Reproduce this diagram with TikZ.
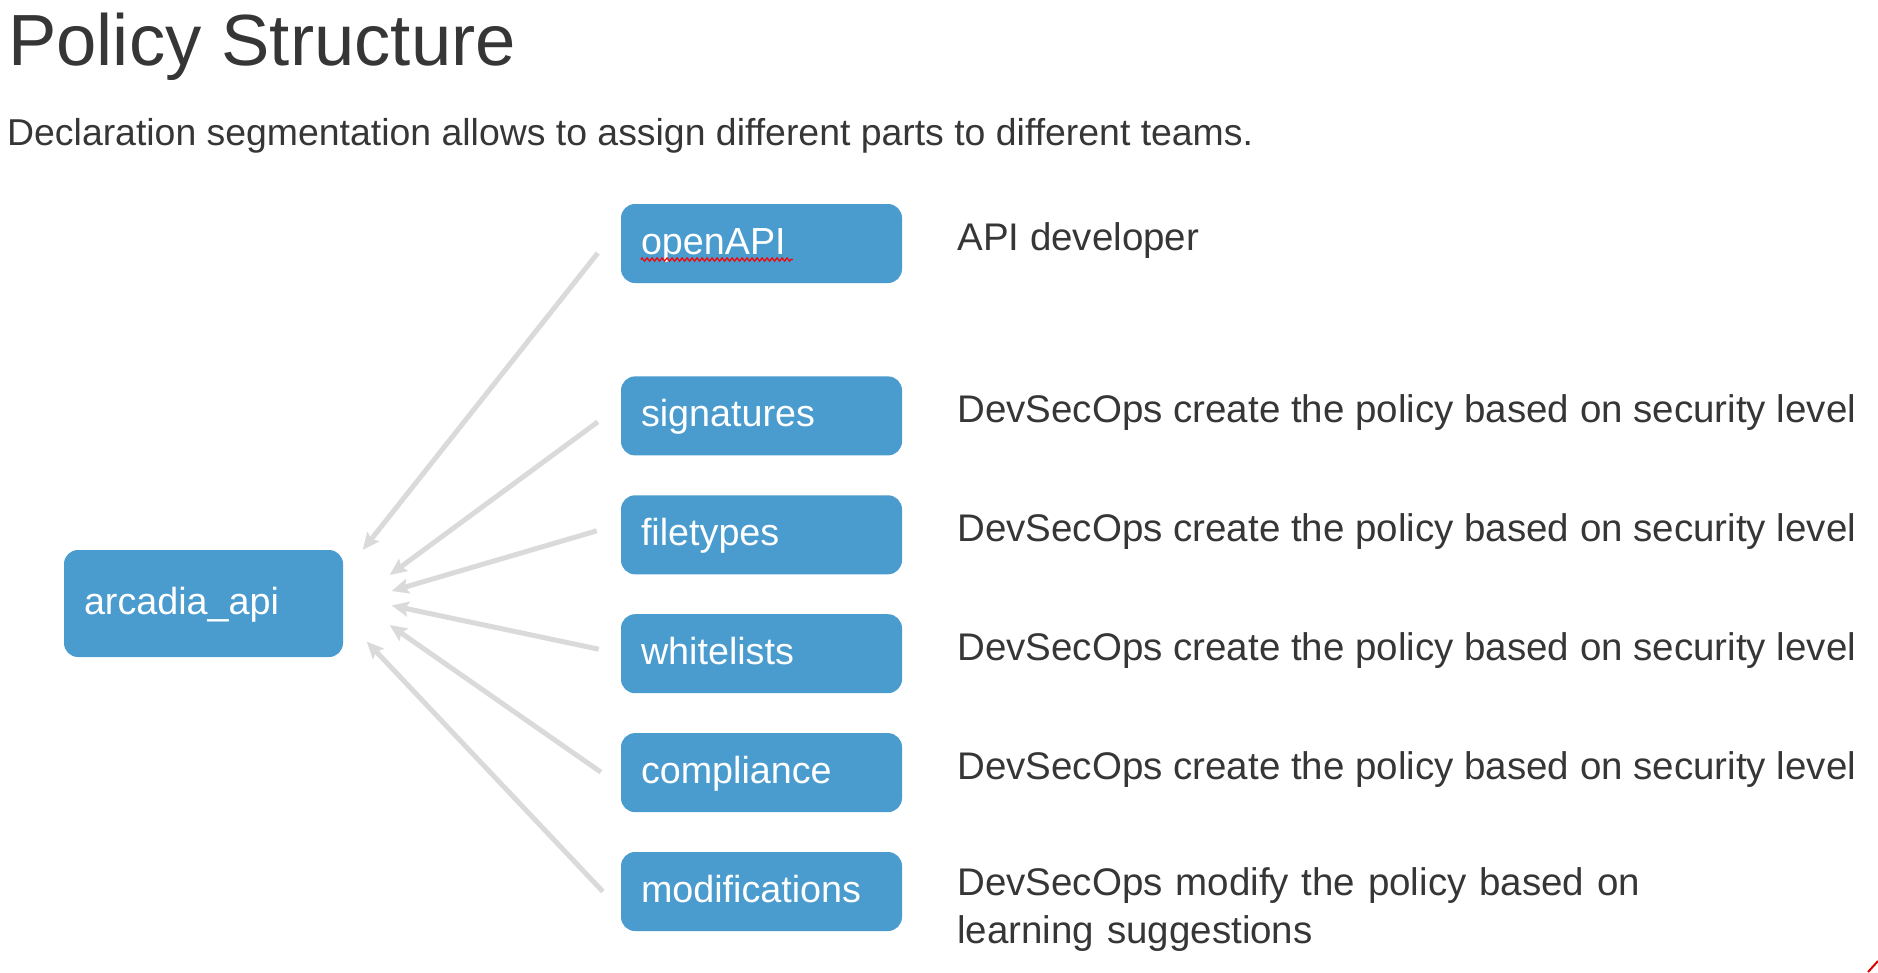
\documentclass[tikz,border=0pt]{standalone}
\usepackage{fontspec}
\setmainfont{Liberation Sans}
\usetikzlibrary{arrows.meta, positioning, calc, decorations.pathmorphing}

\definecolor{boxblue}{HTML}{4A9BCE}
\definecolor{inkgrey}{HTML}{363636}
\definecolor{arrowgrey}{HTML}{DADADA}

\begin{document}
\begin{tikzpicture}[x=1pt, y=-1pt,
  teambox/.style={rectangle, rounded corners=14pt, fill=boxblue, text=white,
    text width=241pt, inner xsep=20pt, align=left, minimum height=79pt,
    text height=22pt, text depth=0pt, font=\fontsize{37.7pt}{45pt}\selectfont},
  desc/.style={inner sep=0pt, text=inkgrey, font=\fontsize{38.5pt}{48pt}\selectfont},
  feed/.style={draw=arrowgrey, line width=5pt, -{Stealth[length=17pt, width=15pt, inset=3pt]}}]

    \useasboundingbox (0,0) rectangle (1878,972);

    %title and subtitle
    \node (title) [anchor=base west, inner sep=0pt, text=inkgrey,
    font=\fontsize{72.5pt}{80pt}\selectfont] at (8,65) {Policy Structure};
    \node (subtitle) [anchor=base west, inner sep=0pt, text=inkgrey,
    font=\fontsize{37.4pt}{45pt}\selectfont] at (7,145)
    {Declaration segmentation allows to assign different parts to different teams.};

    %declaration on the left
    \node (arcadia) [teambox, text width=239pt, minimum height=107pt] at (203.5,603.5) {arcadia\_api};

    %the parts of the policy
    \node (openAPI) [teambox] at (761.5,243.5) {openAPI};
    \node (signatures) [teambox, below=93pt of openAPI] {signatures};
    \node (filetypes) [teambox, below=39.5pt of signatures] {filetypes};
    \node (whitelists) [teambox, below=39.5pt of filetypes] {whitelists};
    \node (compliance) [teambox, below=39.5pt of whitelists] {compliance};
    \node (modifications) [teambox, below=39.5pt of compliance] {modifications};

    %spell check mark under openAPI
    \draw [red, line width=1.2pt, decorate, decoration={zigzag, segment length=5pt, amplitude=1.6pt}]
    ($(openAPI.west)+(20,16)$) -- ($(openAPI.west)+(172,16)$);

    %who owns each part
    \node (apiText) [desc, right=55pt of openAPI.east, anchor=base west, yshift=-7pt] {API developer};
    \node (sigText) [desc, right=55pt of signatures.east, anchor=base west, yshift=-7pt]
    {DevSecOps create the policy based on security level};
    \node (fileText) [desc, right=55pt of filetypes.east, anchor=base west, yshift=-7pt]
    {DevSecOps create the policy based on security level};
    \node (whiteText) [desc, right=55pt of whitelists.east, anchor=base west, yshift=-7pt]
    {DevSecOps create the policy based on security level};
    \node (compText) [desc, right=55pt of compliance.east, anchor=base west, yshift=-7pt]
    {DevSecOps create the policy based on security level};
    \node (modText) [desc, text width=820pt, align=left, right=55pt of modifications.east,
    anchor=base west, yshift=-3.5pt] {DevSecOps modify the policy based on\\learning suggestions};

    %arrows into arcadia_api
    \foreach \src/\sx/\sy/\ex/\ey in {openAPI/-23/9.5/19.5/-53.5, signatures/-23/6/46.5/-28.5,
      filetypes/-24/-4/48.5/-12.5, whitelists/-22/-4.5/48.5/2,
      compliance/-20/-0.5/46.5/21.5, modifications/-18/0/23.5/38}
      \draw [feed] ($(\src.west)+(\sx,\sy)$) -- ($(arcadia.east)+(\ex,\ey)$);

    %corner mark
    \draw [red!85!black, line width=2pt] (1868,972) -- (1878,961);
\end{tikzpicture}
\end{document}
